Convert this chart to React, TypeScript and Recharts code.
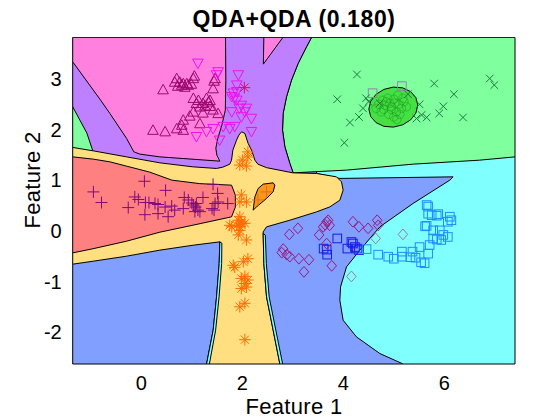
import React from 'react';
import { ScatterChart, Scatter, XAxis, YAxis } from 'recharts';

type P = [number, number];

const xDomain: [number, number] = [-1.36, 7.4];
const yDomain: [number, number] = [-2.63, 3.82];
const xTicks = [0, 2, 4, 6];
const yTicks = [-2, -1, 0, 1, 2, 3];

// ---- decision regions (data units) ----
const blueBase: P[] = [[-1.36, -2.63], [7.4, -2.63], [7.4, 3.82], [-1.36, 3.82]];
const cyanRegion: P[] = [[5.184, -2.63], [4.723, -2.423], [4.261, -2.095], [3.996, -1.765], [3.931, -1.37], [3.945, -1.107], [4.063, -0.711], [4.327, -0.381], [4.723, 0.079], [5.382, 0.542], [6.109, 1.002], [6.174, 1.067], [3.931, 1.036], [3.469, 1.134], [3.469, 1.298], [7.4, 1.595], [7.4, -2.63]];
const greenRegion: P[] = [[3.37, 3.82], [7.4, 3.82], [7.4, 1.462], [6.703, 1.397], [5.382, 1.318], [4.063, 1.2], [3.006, 1.146], [2.941, 1.332], [2.842, 1.66], [2.796, 1.99], [2.808, 2.32], [2.875, 2.648], [2.974, 2.978], [3.105, 3.308], [3.271, 3.636]];
const purpleRegion: P[] = [[-1.36, 3.82], [3.37, 3.82], [3.271, 3.636], [3.105, 3.308], [2.974, 2.978], [2.875, 2.648], [2.808, 2.32], [2.796, 1.99], [2.842, 1.66], [2.941, 1.332], [3.006, 1.146], [3.006, 1.0], [-1.36, 1.0]];
const magentaRegion: P[] = [[-1.36, 3.82], [1.667, 3.82], [1.673, 2.978], [1.663, 2.385], [1.594, 2.089], [1.515, 1.832], [1.475, 1.634], [1.495, 1.496], [1.554, 1.377], [0.366, 1.462], [-0.03, 1.516], [-0.149, 1.561], [-0.293, 1.826], [-0.624, 2.32], [-0.808, 2.583], [-1.36, 3.34]];
const magentaTip: P[] = [[2.426, 3.82], [2.802, 3.82], [2.416, 3.294]];
const greenStrip: P[] = [[-1.36, 2.451], [-1.218, 2.188], [-1.079, 1.931], [-0.98, 1.634], [-0.95, 1.55], [-1.36, 1.55]];
const yellowRegion: P[] = [[-1.36, 1.648], [-0.954, 1.581], [-0.293, 1.462], [0.366, 1.344], [1.02, 1.265], [1.489, 1.233], [1.614, 1.259], [1.752, 1.318], [1.786, 1.397], [1.812, 1.595], [1.885, 1.792], [1.931, 1.891], [1.984, 1.957], [2.05, 1.925], [2.115, 1.727], [2.182, 1.595], [2.248, 1.397], [2.307, 1.318], [2.479, 1.249], [3.0, 1.146], [3.469, 1.134], [3.865, 1.067], [3.964, 0.968], [3.996, 0.804], [3.931, 0.607], [3.733, 0.474], [3.469, 0.375], [2.941, 0.211], [2.479, 0.079], [2.412, -0.02], [2.426, -0.644], [2.479, -1.304], [2.61, -1.962], [2.743, -2.63], [1.291, -2.63], [1.422, -1.962], [1.489, -1.304], [1.541, -0.644], [1.554, -0.217], [1.026, -0.283], [0.366, -0.381], [-0.293, -0.5], [-0.954, -0.599], [-1.36, -0.658]];
const cyanSliverL: P[] = [[1.554, -0.217], [1.541, -0.644], [1.489, -1.304], [1.422, -1.962], [1.291, -2.63], [1.347, -2.63], [1.471, -1.962], [1.539, -1.304], [1.59, -0.644], [1.594, -0.243]];
const cyanSliverR: P[] = [[2.412, -0.051], [2.426, -0.644], [2.479, -1.304], [2.61, -1.962], [2.743, -2.63], [2.798, -2.63], [2.663, -1.962], [2.531, -1.304], [2.475, -0.644], [2.455, -0.085]];
const redRegion: P[] = [[-1.36, 1.462], [-0.954, 1.417], [-0.624, 1.364], [-0.293, 1.279], [0.168, 1.16], [0.604, 1.002], [1.158, 0.933], [1.786, 0.903], [1.861, 0.706], [1.861, 0.468], [1.786, 0.277], [1.026, 0.113], [0.366, -0.026], [-0.293, -0.204], [-0.954, -0.352], [-1.36, -0.435]];
const leafRegion: P[] = [[2.214, 0.409], [2.248, 0.672], [2.313, 0.838], [2.412, 0.923], [2.61, 0.949], [2.644, 0.903], [2.61, 0.771], [2.479, 0.64], [2.281, 0.474]];
const ellipseRegion: P[] = [[5.475, 2.485], [5.438, 2.631], [5.333, 2.751], [5.176, 2.825], [4.99, 2.84], [4.804, 2.795], [4.647, 2.697], [4.542, 2.561], [4.505, 2.405], [4.542, 2.259], [4.647, 2.139], [4.804, 2.065], [4.99, 2.05], [5.176, 2.095], [5.333, 2.193], [5.438, 2.329]];

// ---- samples ----
const plusPts: P[] = [[-0.95, 0.77], [-0.79, 0.56], [0.06, 0.98], [-0.13, 0.67], [-0.06, 0.62], [-0.26, 0.46], [0.08, 0.56], [0.15, 0.56], [0.27, 0.54], [0.33, 0.52], [0.07, 0.32], [0.33, 0.34], [0.48, 0.8], [0.47, 0.47], [0.53, 0.28], [0.66, 0.41], [0.85, 0.66], [0.93, 0.61], [0.83, 0.44], [1.03, 0.51], [1.07, 0.47], [1.12, 0.41], [1.06, 0.38], [1.16, 0.38], [1.22, 0.66], [1.42, 0.92], [1.51, 0.74], [1.46, 0.54], [1.52, 0.57], [1.4, 0.44], [1.44, 0.41], [1.71, 0.54], [1.09, 0.54], [1.0, 0.55], [0.6, 0.49]];
const orangePlusPts: P[] = [[2.48, 0.77], [2.31, 0.61]];
const triUpPts: P[] = [[0.43, 2.79], [0.7, 3.01], [0.66, 2.94], [0.76, 2.94], [0.8, 2.88], [0.83, 2.91], [0.9, 2.91], [0.93, 2.88], [1.03, 3.01], [0.99, 2.9], [1.05, 3.06], [1.44, 2.96], [1.03, 2.62], [1.09, 2.52], [1.29, 2.62], [1.36, 2.58], [1.22, 2.52], [1.16, 2.45], [1.03, 2.35], [0.83, 2.19], [0.8, 2.09], [1.16, 2.12], [1.42, 2.39], [1.52, 2.32], [0.23, 1.99], [0.47, 1.96], [0.7, 2.02], [0.83, 1.99], [1.46, 3.01], [1.42, 2.81], [1.33, 2.55], [1.26, 2.47], [1.13, 2.58], [0.86, 2.84], [0.72, 2.86], [1.22, 2.33], [0.96, 2.27], [1.36, 2.46]];
const triDownPts: P[] = [[1.12, 3.31], [1.52, 3.14], [1.49, 3.08], [1.92, 3.08], [1.89, 2.88], [1.82, 2.72], [1.79, 2.65], [1.89, 2.58], [1.98, 2.48], [2.08, 2.42], [2.18, 2.22], [1.79, 2.35], [1.98, 2.25], [2.05, 2.35], [1.62, 2.06], [1.75, 2.02], [1.85, 2.06], [1.42, 2.02], [1.29, 1.96], [1.09, 1.86], [1.55, 1.79], [2.18, 1.96], [1.89, 2.75], [1.94, 2.42], [1.84, 2.62]];
const pinkStarPts: P[] = [[2.04, 2.83]];
const starPts: P[] = [[2.11, 1.56], [2.11, 1.46], [1.95, 1.3], [2.08, 1.28], [1.98, 0.71], [2.08, 0.57], [1.95, 0.57], [1.92, 0.21], [1.98, 0.15], [1.79, 0.08], [1.95, 0.08], [1.92, -0.08], [2.08, -0.18], [1.95, 0.28], [1.98, 0.18], [1.75, 0.11], [1.89, 0.11], [2.05, 0.15], [1.95, 0.01], [2.11, -0.55], [2.02, -0.61], [1.82, -0.68], [1.85, -0.72], [2.05, -0.9], [1.98, -0.94], [2.11, -0.97], [2.08, -1.11], [1.98, -1.14], [2.05, -1.04], [2.05, -1.43], [1.95, -1.5], [2.05, -2.15], [2.0, 1.4]];
const crossPts: P[] = [[4.27, 3.09], [3.88, 2.6], [4.45, 2.62], [4.39, 2.42], [4.31, 2.25], [4.13, 2.14], [4.02, 1.74], [4.72, 2.52], [5.51, 2.5], [5.55, 2.29], [5.65, 2.24], [5.45, 2.22], [5.8, 2.91], [6.19, 2.7], [5.98, 2.46], [5.9, 2.32], [6.37, 2.24], [6.9, 3.01], [6.99, 2.88], [5.28, 2.7], [4.5, 2.55]];
const circlePts: P[] = [[4.7, 2.5], [4.8, 2.4], [4.85, 2.55], [4.95, 2.45], [5.0, 2.6], [5.05, 2.35], [5.1, 2.5], [5.15, 2.42], [4.9, 2.3], [5.0, 2.25], [5.2, 2.55], [4.75, 2.35], [4.88, 2.62], [5.08, 2.68], [4.95, 2.4], [5.12, 2.3], [4.82, 2.48], [5.25, 2.45], [4.65, 2.42], [5.02, 2.52], [4.92, 2.52], [5.18, 2.62], [4.78, 2.58], [5.06, 2.2]];
const fadedSquarePts: P[] = [[4.58, 2.72], [5.16, 2.86]];
const darkSquarePts: P[] = [[3.88, -0.15], [3.61, -0.35], [3.68, -0.47], [3.67, -0.37], [4.08, -0.35], [4.19, -0.25], [4.23, -0.32], [4.16, -0.22], [4.27, -0.35], [4.31, -0.38]];
const lightSquarePts: P[] = [[4.46, -0.36], [4.69, -0.47], [5.0, -0.55], [5.16, -0.41], [5.16, -0.51], [5.37, -0.41], [5.43, -0.53], [5.51, -0.32], [5.61, -0.64], [5.68, -0.45], [5.65, 0.51], [5.68, 0.34], [5.75, 0.31], [5.85, 0.3], [5.65, 0.1], [5.78, 0.01], [5.91, 0.01], [6.11, 0.28], [6.07, 0.18], [6.14, 0.21], [5.98, -0.08], [6.07, -0.12], [5.78, -0.15], [5.94, -0.18], [5.71, -0.28], [5.68, 0.48], [5.88, 0.33], [5.62, 0.09], [5.85, -0.17], [4.89, -0.51], [5.33, -0.52], [5.54, -0.62]];
const diamondPts: P[] = [[2.93, -0.07], [3.1, 0.05], [2.81, -0.36], [2.78, -0.43], [2.88, -0.47], [2.94, -0.51], [3.12, -0.55], [3.32, -0.57], [3.22, -0.81], [3.52, -0.08], [3.6, 0.08], [3.67, 0.18], [3.73, 0.11], [3.7, 0.21], [3.67, -0.25], [3.77, -0.69], [4.19, 0.18], [4.31, 0.08], [4.49, 0.05], [4.67, 0.21], [4.69, 0.11], [3.64, 0.12]];
const fadedDiamondPts: P[] = [[4.64, -0.15], [4.16, -0.9], [5.18, -0.07]];

const mk = (pts: P[]) => pts.map(([x, y]) => ({ x, y }));

const regions: { name: string; pts: P[]; fill: string }[] = [
  { name: 'blue', pts: blueBase, fill: '#809fff' },
  { name: 'cyan', pts: cyanRegion, fill: '#80ffff' },
  { name: 'green', pts: greenRegion, fill: '#80ff9e' },
  { name: 'purple', pts: purpleRegion, fill: '#bf80ff' },
  { name: 'magenta', pts: magentaRegion, fill: '#ff80df' },
  { name: 'magentaTip', pts: magentaTip, fill: '#ff80df' },
  { name: 'greenStrip', pts: greenStrip, fill: '#80ff9e' },
  { name: 'yellow', pts: yellowRegion, fill: '#ffdf80' },
  { name: 'cyanL', pts: cyanSliverL, fill: '#80ffff' },
  { name: 'cyanR', pts: cyanSliverR, fill: '#80ffff' },
  { name: 'red', pts: redRegion, fill: '#ff8080' },
  { name: 'leaf', pts: leafRegion, fill: '#f8961e' },
  { name: 'ellipse', pts: ellipseRegion, fill: '#44e044' },
];

const polyLine = (fill: string) => (props: any) => (
  <polygon
    points={(props.points || []).map((p: any) => `${p.x},${p.y}`).join(' ')}
    fill={fill}
    stroke="#000"
    strokeWidth={1}
    strokeLinejoin="round"
  />
);
const noShape = () => <g />;

const plusShape = (c: string, r: number) => (p: any) => (
  <path d={`M${p.cx - r},${p.cy}H${p.cx + r}M${p.cx},${p.cy - r}V${p.cy + r}`} stroke={c} strokeWidth={1} fill="none" />
);
const triUpShape = (c: string) => (p: any) => (
  <path d={`M${p.cx},${p.cy - 5.3}L${p.cx + 5.3},${p.cy + 4.2}L${p.cx - 5.3},${p.cy + 4.2}Z`} stroke={c} strokeWidth={1} fill="none" />
);
const triDownShape = (c: string) => (p: any) => (
  <path d={`M${p.cx},${p.cy + 5.3}L${p.cx + 5.3},${p.cy - 4.2}L${p.cx - 5.3},${p.cy - 4.2}Z`} stroke={c} strokeWidth={1} fill="none" />
);
const starShape = (c: string) => (p: any) => {
  const r = 5.8;
  const d = 4.1;
  return (
    <path
      d={`M${p.cx - r},${p.cy}H${p.cx + r}M${p.cx},${p.cy - r}V${p.cy + r}M${p.cx - d},${p.cy - d}L${p.cx + d},${p.cy + d}M${p.cx - d},${p.cy + d}L${p.cx + d},${p.cy - d}`}
      stroke={c}
      strokeWidth={1}
      fill="none"
    />
  );
};
const crossShape = (c: string) => (p: any) => (
  <path d={`M${p.cx - 3.8},${p.cy - 3.8}L${p.cx + 3.8},${p.cy + 3.8}M${p.cx - 3.8},${p.cy + 3.8}L${p.cx + 3.8},${p.cy - 3.8}`} stroke={c} strokeWidth={1} fill="none" />
);
const circleShape = (c: string) => (p: any) => (
  <circle cx={p.cx} cy={p.cy} r={4.2} stroke={c} strokeWidth={1} fill="none" strokeOpacity={0.5} />
);
const squareShape = (c: string) => (p: any) => (
  <rect x={p.cx - 4.3} y={p.cy - 4.3} width={8.6} height={8.6} stroke={c} strokeWidth={1} fill="none" />
);
const diamondShape = (c: string) => (p: any) => (
  <path d={`M${p.cx},${p.cy - 5.4}L${p.cx + 4.8},${p.cy}L${p.cx},${p.cy + 5.4}L${p.cx - 4.8},${p.cy}Z`} stroke={c} strokeWidth={1} fill="none" />
);

const markerSets: { name: string; pts: P[]; shape: (p: any) => React.ReactElement }[] = [
  { name: 'circles', pts: circlePts, shape: circleShape('#1e9a1e') },
  { name: 'fadedSquares', pts: fadedSquarePts, shape: squareShape('#9a7fb0') },
  { name: 'plus', pts: plusPts, shape: plusShape('#7d0a7d', 6) },
  { name: 'orangePlus', pts: orangePlusPts, shape: plusShape('#e07010', 6) },
  { name: 'triUp', pts: triUpPts, shape: triUpShape('#9a0a6e') },
  { name: 'triDown', pts: triDownPts, shape: triDownShape('#ee10ee') },
  { name: 'pinkStar', pts: pinkStarPts, shape: starShape('#d0106f') },
  { name: 'stars', pts: starPts, shape: starShape('#ff6a00') },
  { name: 'crosses', pts: crossPts, shape: crossShape('#1d7a40') },
  { name: 'darkSquares', pts: darkSquarePts, shape: squareShape('#1a1ae6') },
  { name: 'lightSquares', pts: lightSquarePts, shape: squareShape('#1e8cff') },
  { name: 'diamonds', pts: diamondPts, shape: diamondShape('#9a1a7a') },
  { name: 'fadedDiamonds', pts: fadedDiamondPts, shape: diamondShape('#a07a8a') },
];

const FONT = '"Liberation Sans", Arial, Helvetica, sans-serif';
const tickStyle = { fontSize: 20, fill: '#000', fontFamily: FONT };
const blank = () => '';

export default function App() {
  return (
    <div style={{ position: 'absolute', left: 0, top: 0, width: 560, height: 420, background: '#fff', overflow: 'hidden' }}>
      <ScatterChart width={560} height={420} margin={{ top: 36.5, right: 44, bottom: 26, left: 0 }}>
        <XAxis
          type="number"
          dataKey="x"
          domain={xDomain}
          ticks={xTicks}
          allowDataOverflow
          height={30}
          tickSize={-5}
          tickMargin={17}
          tick={tickStyle}
          axisLine={{ stroke: '#000' }}
          tickLine={{ stroke: '#000', strokeOpacity: 0.5 }}
        />
        <XAxis
          xAxisId="top"
          orientation="top"
          type="number"
          dataKey="x"
          domain={xDomain}
          ticks={xTicks}
          allowDataOverflow
          height={1}
          tickSize={-5}
          tickFormatter={blank}
          axisLine={{ stroke: '#000' }}
          tickLine={{ stroke: '#000', strokeOpacity: 0.5 }}
        />
        <YAxis
          type="number"
          dataKey="y"
          domain={yDomain}
          ticks={yTicks}
          allowDataOverflow
          width={72.7}
          tickSize={-5}
          tickMargin={16}
          tick={tickStyle}
          axisLine={{ stroke: '#000' }}
          tickLine={{ stroke: '#000', strokeOpacity: 0.5 }}
        />
        <YAxis
          yAxisId="right"
          orientation="right"
          type="number"
          dataKey="y"
          domain={yDomain}
          ticks={yTicks}
          allowDataOverflow
          width={1}
          tickSize={-5}
          tickFormatter={blank}
          axisLine={{ stroke: '#000' }}
          tickLine={{ stroke: '#000', strokeOpacity: 0.5 }}
        />
        {regions.map((r) => (
          <Scatter
            key={r.name}
            name={r.name}
            data={mk(r.pts)}
            line={polyLine(r.fill)}
            lineType="joint"
            shape={noShape}
            isAnimationActive={false}
            legendType="none"
          />
        ))}
        {markerSets.map((m) => (
          <Scatter key={m.name} name={m.name} data={mk(m.pts)} shape={m.shape} isAnimationActive={false} legendType="none" />
        ))}
      </ScatterChart>
      <div
        style={{
          position: 'absolute', left: 94, top: 6, width: 400, textAlign: 'center',
          fontFamily: FONT, fontWeight: 'bold', fontSize: 23, letterSpacing: 0.6, lineHeight: '26px', color: '#000', whiteSpace: 'nowrap',
        }}
      >
        QDA+QDA (0.180)
      </div>
      <div
        style={{
          position: 'absolute', left: 94, top: 395, width: 400, textAlign: 'center',
          fontFamily: FONT, fontSize: 22, letterSpacing: 0.3, lineHeight: '24px', color: '#000', whiteSpace: 'nowrap',
        }}
      >
        Feature 1
      </div>
      <div
        style={{
          position: 'absolute', left: -67, top: 168, width: 200, height: 24, textAlign: 'center',
          fontFamily: FONT, fontSize: 22, letterSpacing: 0.3, lineHeight: '24px', color: '#000', whiteSpace: 'nowrap',
          transform: 'rotate(-90deg)', transformOrigin: '50% 50%',
        }}
      >
        Feature 2
      </div>
    </div>
  );
}
